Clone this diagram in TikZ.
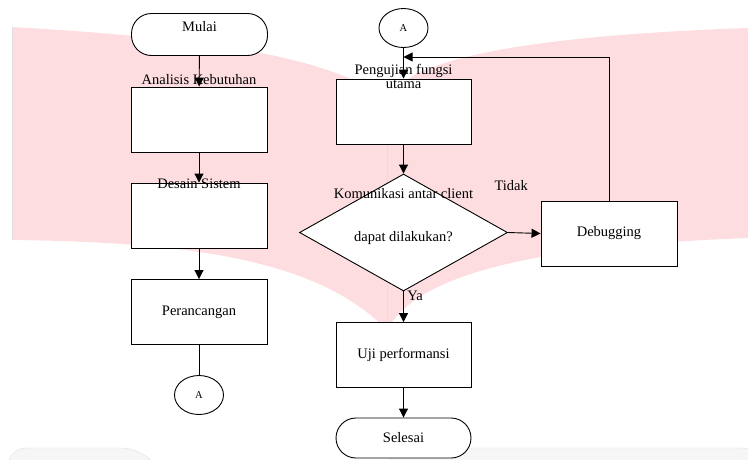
\documentclass[tikz,border=0pt]{standalone}
\usepackage{fontspec}
\setmainfont{Liberation Serif}
\usetikzlibrary{shapes.geometric, arrows.meta}

\definecolor{wmpink}{RGB}{253,221,223}
\definecolor{wmgray}{RGB}{246,246,246}

\begin{document}
\begin{tikzpicture}[x=1pt,y=-1pt]

\tikzset{txt/.style = {font=\fontsize{14.5}{17}\selectfont}}
\tikzset{proc/.style = {shape=rectangle,draw,fill=white,line width=0.9pt,minimum width=136pt,minimum height=65pt,txt}}
\tikzset{term/.style = {proc,rounded corners=20pt,minimum height=42pt}}
\tikzset{conn/.style = {shape=ellipse,draw,fill=white,line width=0.9pt,minimum width=49pt,minimum height=39pt,inner sep=0pt,font=\fontsize{10.5}{12}\selectfont}}
\tikzset{decision/.style = {shape=diamond,draw,fill=white,line width=0.9pt,aspect=1.78,minimum width=208pt,minimum height=117pt,inner sep=0pt}}
\tikzset{toptext/.style = {anchor=center,txt,align=center}}
\tikzset{edge/.style = {line width=0.9pt,-{Triangle[length=9pt,width=9pt]}}}

\useasboundingbox (0,0) rectangle (748,459);

% watermark
\fill[wmpink] (12,27) .. controls (200,38) and (330,55) .. (387,100) -- (387,330) .. controls (320,262) and (200,242) .. (12,240) -- cycle;
\fill[wmpink] (387,100) .. controls (405,60) and (520,36) .. (748,28) -- (748,238) .. controls (560,245) and (420,268) .. (387,330) -- cycle;
\draw[gray!25] (12,27) -- (12,240);
\draw[gray!25] (387,140) -- (387,330);
\filldraw[fill=wmgray,draw=gray!25,rounded corners=18pt] (8,470) -- (8,448) -- (140,448) -- (160,470);
\filldraw[fill=wmgray,draw=gray!25,rounded corners=18pt] (380,470) -- (400,448) -- (760,448) -- (760,470);

% vertices
\node[term] (mulai) at (199.5,34.5) {};
\node[toptext] at ([yshift=8pt]mulai.center) {Mulai};
\node[proc,label={[toptext,yshift=7pt]north:Analisis Kebutuhan}] (analisis) at (199,119.5) {};
\node[proc,label={[toptext,yshift=-1pt]north:Desain Sistem}] (desain) at (199,215.5) {};
\node[proc] (perancangan) at (199,312) {Perancangan};
\node[conn] (a1) at (199,395) {A};

\node[conn] (a2) at (403.5,28) {A};
\node[proc,minimum width=135pt,label={[toptext,yshift=2pt]north:{Pengujian fungsi\\[-3pt]utama}}] (pengujian) at (403.5,111.5) {};
\node[decision,label={[toptext,yshift=15.5pt]center:{Komunikasi antar client\\[26pt]dapat dilakukan?}}] (komunikasi) at (403.5,232.5) {};
\node[proc] (debugging) at (609,233.5) {Debugging};
\node[proc,minimum width=135pt] (uji) at (403.5,355) {Uji performansi};
\node[term,minimum width=135pt,minimum height=40pt] (selesai) at (403.5,438) {Selesai};
\coordinate (balik) at (403.5,57);

% edges
\draw[edge] (mulai) -- (analisis);
\draw[edge] (analisis) -- (desain);
\draw[edge] (desain) -- (perancangan);
\draw[line width=0.9pt] (perancangan) -- (a1);
\draw[edge] (a2) -- (pengujian);
\draw[edge] (pengujian) -- (komunikasi);
\draw[edge] (komunikasi.east) -- (debugging.west) node[pos=0.1,above=38pt,txt] {Tidak};
\draw[edge] (komunikasi.south) -- (uji.north) node[pos=0.15,right=0pt,txt] {Ya};
\draw[edge] (debugging.north) |- (balik);
\draw[edge] (uji) -- (selesai);

\end{tikzpicture}
\end{document}
